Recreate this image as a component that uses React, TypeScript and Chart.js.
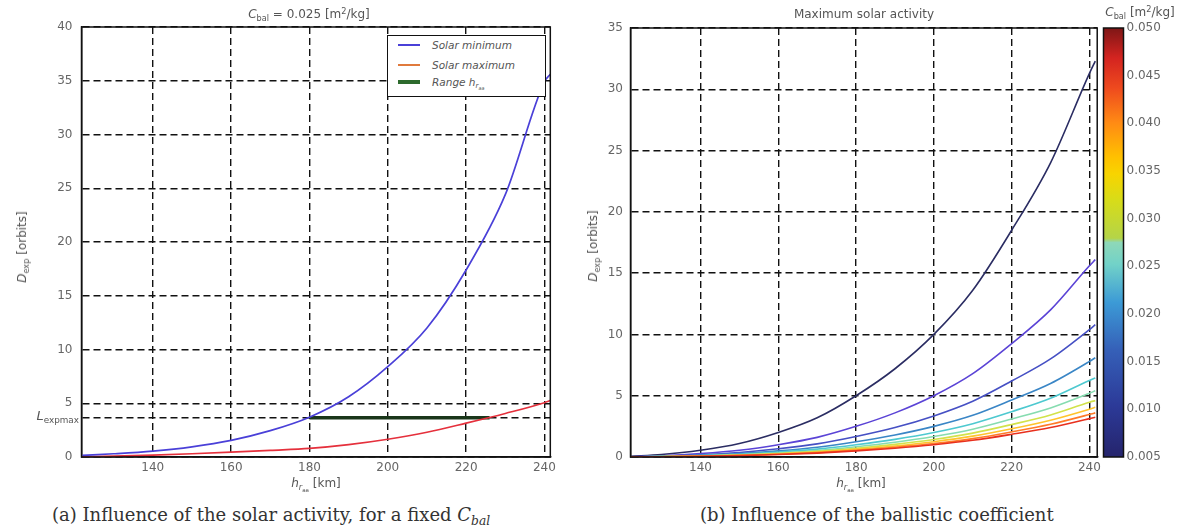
import React, { useEffect, useRef } from 'react';
import { Chart, registerables } from 'chart.js';

Chart.register(...registerables);

// ---------- data: panel (a) ----------
const altitudeA = [122, 130, 140, 150, 160, 170, 180, 190, 200, 210, 220, 230, 240, 241.5];
const solarMinimum = [0.15, 0.3, 0.55, 0.95, 1.55, 2.45, 3.7, 5.6, 8.4, 12.0, 17.4, 24.4, 34.9, 35.6];
const solarMaximum = [0.03, 0.08, 0.18, 0.3, 0.45, 0.62, 0.8, 1.15, 1.65, 2.3, 3.15, 4.05, 5.05, 5.25];
const rangeAltitude = [180, 226];
const lExpMax = 3.65;
const rangeValue = [lExpMax, lExpMax];
const yTicksA = [0, lExpMax, 5, 10, 15, 20, 25, 30, 35, 40];
const xTicks = [140, 160, 180, 200, 220, 240];

// ---------- data: panel (b) ----------
const altitudeB = [122, 130, 140, 150, 160, 170, 180, 190, 200, 210, 220, 230, 240, 241.5];
const cbalValues = [0.005, 0.01, 0.015, 0.02, 0.025, 0.03, 0.035, 0.04, 0.045, 0.05];
const dCbal005 = [0.05, 0.2, 0.55, 1.1, 2.0, 3.2, 5.0, 7.2, 10.0, 13.6, 18.5, 24.0, 31.3, 32.3];
const dCbal010 = [0.02, 0.1, 0.28, 0.55, 1.0, 1.6, 2.5, 3.6, 5.0, 6.8, 9.25, 12.0, 15.6, 16.1];
const dCbal015 = [0.02, 0.07, 0.18, 0.37, 0.67, 1.07, 1.67, 2.4, 3.35, 4.55, 6.2, 8.0, 10.4, 10.8];
const dCbal020 = [0.01, 0.05, 0.14, 0.28, 0.5, 0.8, 1.25, 1.8, 2.5, 3.4, 4.65, 6.0, 7.8, 8.1];
const dCbal025 = [0.01, 0.04, 0.11, 0.22, 0.4, 0.64, 1.0, 1.44, 2.0, 2.72, 3.7, 4.8, 6.25, 6.45];
const dCbal030 = [0.01, 0.03, 0.09, 0.18, 0.33, 0.53, 0.83, 1.2, 1.67, 2.27, 3.1, 4.0, 5.2, 5.4];
const dCbal035 = [0.01, 0.03, 0.08, 0.16, 0.29, 0.46, 0.71, 1.03, 1.43, 1.95, 2.65, 3.43, 4.47, 4.6];
const dCbal040 = [0.0, 0.02, 0.07, 0.14, 0.25, 0.4, 0.62, 0.9, 1.25, 1.7, 2.3, 3.0, 3.9, 4.05];
const dCbal045 = [0.0, 0.02, 0.06, 0.12, 0.22, 0.36, 0.55, 0.8, 1.1, 1.5, 2.05, 2.67, 3.47, 3.6];
const dCbal050 = [0.0, 0.02, 0.05, 0.11, 0.2, 0.32, 0.5, 0.72, 1.0, 1.36, 1.85, 2.4, 3.13, 3.25];
const seriesB = [dCbal005, dCbal010, dCbal015, dCbal020, dCbal025, dCbal030, dCbal035, dCbal040, dCbal045, dCbal050];
const yTicksB = [0, 5, 10, 15, 20, 25, 30, 35];
const cbarTicks = [0.005, 0.01, 0.015, 0.02, 0.025, 0.03, 0.035, 0.04, 0.045, 0.05];

// ---------- styles ----------
const lineColorsB = ['#2b2d63', '#5b44d6', '#4650c4', '#3a86c6', '#4ec9d0', '#86dcb0', '#d2e24a', '#ffc42c', '#ff7a28', '#e8301e'];
const cbarStops: [number, string][] = [
  [0, '#25246c'], [0.12, '#2c3a98'], [0.25, '#3560b8'], [0.36, '#3c9ad6'], [0.45, '#72d2c8'],
  [0.5, '#8ed8b8'], [0.51, '#b4d448'], [0.6, '#d8dc18'], [0.66, '#f8d400'], [0.7, '#ffc000'],
  [0.78, '#ff8a14'], [0.86, '#ee4a1e'], [0.93, '#d42420'], [1, '#7e1616'],
];
const tickFont = { family: 'DejaVu Sans', size: 12 };
const tickColor = '#666';

const framePlugin = {
  id: 'frame',
  afterDraw(chart: any) {
    const { ctx, chartArea: a } = chart;
    ctx.save();
    ctx.setLineDash([]);
    ctx.strokeStyle = '#111';
    ctx.lineWidth = 1.5;
    ctx.strokeRect(a.left, a.top, a.right - a.left, a.bottom - a.top);
    ctx.restore();
  },
};

function gridAxis(min: number, max: number, ticks: number[], horizontal: boolean, size: number, pad: number, label?: (v: number) => string) {
  return {
    type: 'linear',
    min,
    max,
    position: horizontal ? 'bottom' : 'left',
    afterBuildTicks: (s: any) => {
      s.ticks = ticks.map((v) => ({ value: v }));
    },
    afterFit: (s: any) => {
      if (horizontal) s.height = size;
      else s.width = size;
    },
    grid: { color: '#111', lineWidth: 1.4, drawTicks: false },
    border: { display: true, color: '#111', width: 1.5, dash: [7, 4] },
    ticks: {
      color: tickColor,
      font: tickFont,
      padding: pad,
      autoSkip: false,
      maxRotation: 0,
      callback: label ? (v: any) => label(Number(v)) : (v: any) => String(v),
    },
  };
}

function toXY(xs: number[], ys: number[]) {
  return xs.map((x, i) => ({ x, y: ys[i] }));
}

const T: React.FC<{ x: number; y: number; size?: number; rot?: boolean; italic?: boolean; family?: string; color?: string; anchor?: 'c' | 'l' | 'r'; children: React.ReactNode }> = ({ x, y, size = 12, rot, italic, family = 'DejaVu Sans', color = '#555', anchor = 'c', children }) => {
  const tx = anchor === 'c' ? '-50%' : anchor === 'l' ? '0' : '-100%';
  return (
    <div
      style={{
        position: 'absolute',
        left: x,
        top: y,
        transform: `translate(${tx}, -50%)${rot ? ' rotate(-90deg)' : ''}`,
        transformOrigin: rot ? '50% 50%' : undefined,
        whiteSpace: 'nowrap',
        fontFamily: family,
        fontSize: size,
        fontStyle: italic ? 'italic' : 'normal',
        color,
        lineHeight: 1,
      }}
    >
      {children}
    </div>
  );
};

const sub = { fontSize: '68%', verticalAlign: '-0.35em', lineHeight: 0 } as React.CSSProperties;
const sup = { fontSize: '68%', verticalAlign: '0.5em', lineHeight: 0 } as React.CSSProperties;

export default function App() {
  const refA = useRef<HTMLCanvasElement>(null);
  const refB = useRef<HTMLCanvasElement>(null);
  const refC = useRef<HTMLCanvasElement>(null);

  useEffect(() => {
    const chartA = new Chart(refA.current!, {
      type: 'line',
      data: {
        datasets: [
          { label: 'Solar minimum', data: toXY(altitudeA, solarMinimum), borderColor: '#4a40d8', borderWidth: 1.7, pointRadius: 0, cubicInterpolationMode: 'monotone' },
          { label: 'Solar maximum', data: toXY(altitudeA, solarMaximum), borderColor: '#e5303c', borderWidth: 1.7, pointRadius: 0, cubicInterpolationMode: 'monotone' },
          { label: 'Range h', data: toXY(rangeAltitude, rangeValue), borderColor: '#1a361a', borderWidth: 3.5, pointRadius: 0 },
        ],
      } as any,
      options: {
        animation: false,
        responsive: false,
        layout: { padding: { top: 27, right: 9, bottom: 0, left: 0 } },
        plugins: { legend: { display: false }, tooltip: { enabled: false } },
        scales: {
          x: gridAxis(121.8, 241.5, xTicks, true, 30, 4),
          y: gridAxis(0, 40, yTicksA, false, 81.5, 9, (v) => (Math.abs(v - lExpMax) < 1e-6 ? '' : String(v))),
        },
      } as any,
      plugins: [framePlugin],
    });

    const chartB = new Chart(refB.current!, {
      type: 'line',
      data: {
        datasets: seriesB.map((s, i) => ({
          label: `C_bal = ${cbalValues[i]}`,
          data: toXY(altitudeB, s),
          borderColor: lineColorsB[i],
          borderWidth: 1.6,
          pointRadius: 0,
          cubicInterpolationMode: 'monotone',
        })).reverse(),
      } as any,
      options: {
        animation: false,
        responsive: false,
        layout: { padding: { top: 28, right: 6.5, bottom: 0, left: 0 } },
        plugins: { legend: { display: false }, tooltip: { enabled: false } },
        scales: {
          x: gridAxis(122, 242, xTicks, true, 30, 4),
          y: gridAxis(0, 35, yTicksB, false, 70.5, 7.5),
        },
      } as any,
      plugins: [framePlugin],
    });

    const chartC = new Chart(refC.current!, {
      type: 'bar',
      data: {
        labels: [''],
        datasets: [
          {
            data: [[cbarTicks[0], cbarTicks[cbarTicks.length - 1]]],
            borderWidth: 0,
            barPercentage: 1,
            categoryPercentage: 1,
            backgroundColor: (ctx: any) => {
              const { chart } = ctx;
              const a = chart.chartArea;
              if (!a) return '#3c9ad6';
              const g = chart.ctx.createLinearGradient(0, a.bottom, 0, a.top);
              cbarStops.forEach(([p, c]) => g.addColorStop(p, c));
              return g;
            },
          },
        ],
      } as any,
      options: {
        animation: false,
        responsive: false,
        layout: { padding: { top: 28, right: 0, bottom: 30, left: 8.5 } },
        plugins: { legend: { display: false }, tooltip: { enabled: false } },
        scales: {
          x: { display: false },
          y: {
            type: 'linear',
            position: 'right',
            min: 0.005,
            max: 0.05,
            afterBuildTicks: (s: any) => {
              s.ticks = cbarTicks.map((v) => ({ value: v }));
            },
            afterFit: (s: any) => {
              s.width = 60.5;
            },
            grid: { display: false, drawTicks: false },
            border: { display: false },
            ticks: { color: tickColor, font: tickFont, padding: 3, autoSkip: false, callback: (v: any) => Number(v).toFixed(3) },
          },
        },
      } as any,
      plugins: [framePlugin],
    });

    return () => {
      chartA.destroy();
      chartB.destroy();
      chartC.destroy();
    };
  }, []);

  const legendRows = [
    { color: '#4a40d8', w: 2, label: <>Solar minimum</> },
    { color: '#e07a3c', w: 2, label: <>Solar maximum</> },
    { color: '#2d6a2d', w: 4, label: <>Range h<span style={sub}>r<span style={sub}>aa</span></span></> },
  ];

  return (
    <div style={{ position: 'absolute', left: 0, top: 0, width: 1184, height: 528, background: '#fff', overflow: 'hidden' }}>
      <canvas ref={refA} width={560} height={487} style={{ position: 'absolute', left: 0, top: 0, width: 560, height: 487 }} />
      <canvas ref={refB} width={545} height={487} style={{ position: 'absolute', left: 560, top: 0, width: 545, height: 487 }} />
      <canvas ref={refC} width={89} height={487} style={{ position: 'absolute', left: 1095, top: 0, width: 89, height: 487 }} />

      {/* legend of panel (a) */}
      <div style={{ position: 'absolute', left: 387, top: 35, width: 157, height: 60, border: '1.5px solid #111', background: '#fff' }}>
        {legendRows.map((r, i) => (
          <div key={i} style={{ position: 'absolute', left: 0, top: [9, 29, 46][i], width: '100%' }}>
            <div style={{ position: 'absolute', left: 10, top: -r.w / 2, width: 22, height: r.w, background: r.color }} />
            <div style={{ position: 'absolute', left: 44, top: -7, fontFamily: 'DejaVu Sans', fontStyle: 'italic', fontSize: 10.5, color: '#555', whiteSpace: 'nowrap', lineHeight: '14px' }}>{r.label}</div>
          </div>
        ))}
      </div>

      {/* titles */}
      <T x={309} y={14} size={12}>
        <i>C</i><span style={sub}>bal</span> = 0.025 [m<span style={sup}>2</span>/kg]
      </T>
      <T x={864} y={14} size={12}>Maximum solar activity</T>
      <T x={1140} y={12} size={12}>
        <i>C</i><span style={sub}>bal</span> [m<span style={sup}>2</span>/kg]
      </T>

      {/* L_expmax tick label */}
      <T x={79} y={415} size={13} anchor="r">
        <i>L</i><span style={sub}>expmax</span>
      </T>

      {/* axis titles */}
      <T x={316} y={483} size={12}>
        <i>h</i><span style={sub}><i>r</i><span style={sub}>aa</span></span> [km]
      </T>
      <T x={861} y={483} size={12}>
        <i>h</i><span style={sub}><i>r</i><span style={sub}>aa</span></span> [km]
      </T>
      <T x={22} y={247} size={12} rot>
        <i>D</i><span style={sub}>exp</span> [orbits]
      </T>
      <T x={593} y={246} size={12} rot>
        <i>D</i><span style={sub}>exp</span> [orbits]
      </T>

      {/* captions */}
      <T x={52} y={515} size={18} family="DejaVu Serif" color="#333" anchor="l">
        (a) Influence of the solar activity, for a fixed <i>C</i><span style={sub}><i>bal</i></span>
      </T>
      <T x={700} y={515} size={18} family="DejaVu Serif" color="#333" anchor="l">
        (b) Influence of the ballistic coefficient
      </T>
    </div>
  );
}
